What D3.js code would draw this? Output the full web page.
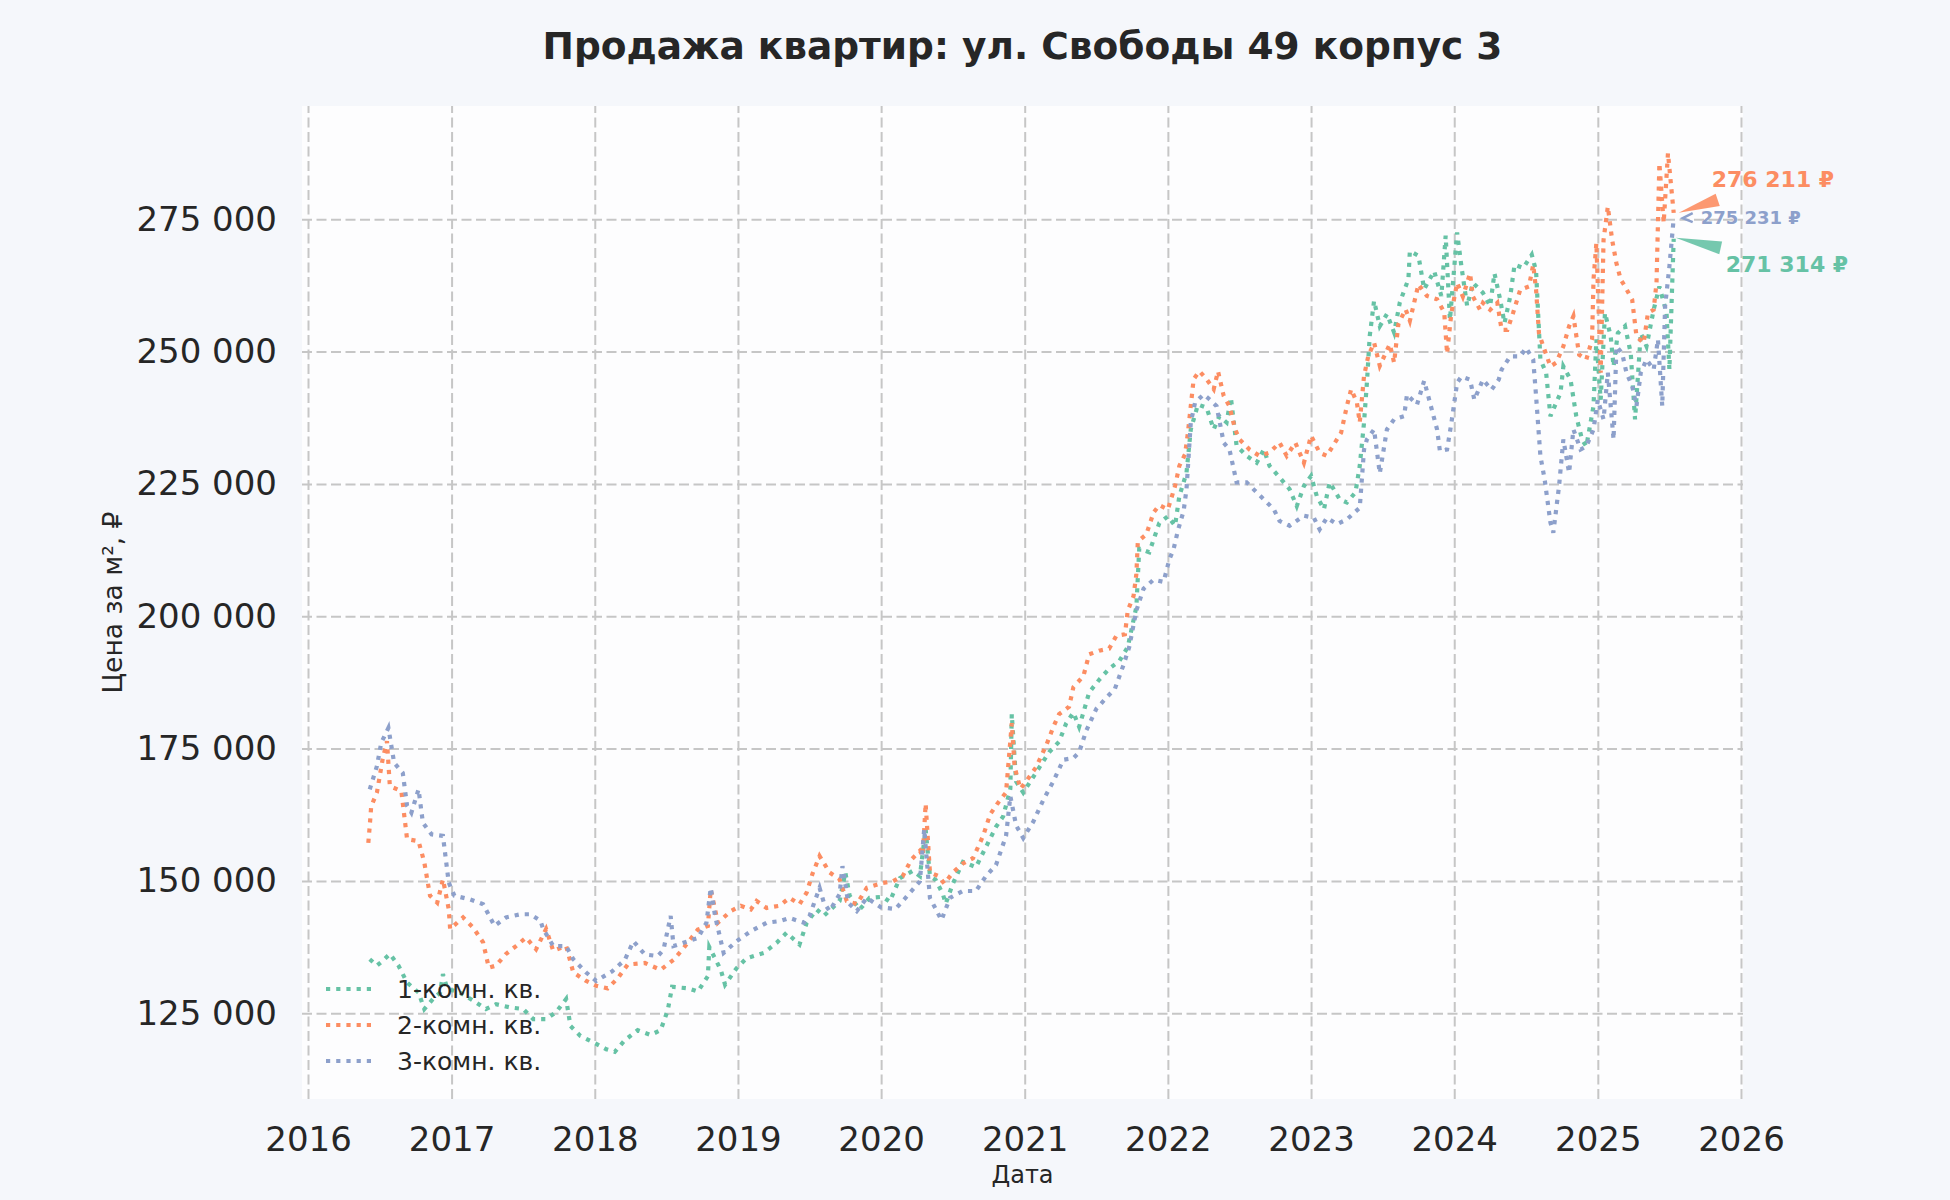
<!DOCTYPE html>
<html>
<head>
<meta charset="utf-8">
<script src="https://cdn.jsdelivr.net/npm/d3@7"></script>
<style>
  body { margin: 0; background: #f5f7fb; }
  svg { display: block; font-family: "DejaVu Sans", sans-serif; }
</style>
</head>
<body>
<svg id="canvas"></svg>
<script>
// [decimal year, price per m²]
const oneRoom = [
  [2016.43,135200],[2016.48,134000],[2016.52,134900],[2016.57,136200],[2016.63,134000],[2016.69,130800],
  [2016.77,128900],[2016.81,125800],[2016.87,127700],[2016.92,128900],[2016.94,132400],[2016.97,129600],
  [2017.06,128900],[2017.15,127400],[2017.24,125800],[2017.31,126700],[2017.41,126100],[2017.50,125800],
  [2017.57,123900],[2017.66,123900],[2017.73,125200],[2017.80,127700],[2017.83,122600],[2017.90,120700],
  [2017.99,119500],[2018.08,118200],[2018.14,117700],[2018.21,119900],[2018.30,121800],[2018.39,120900],
  [2018.46,121800],[2018.51,125600],[2018.54,130000],[2018.65,129700],[2018.72,129100],[2018.79,132000],
  [2018.80,137500],[2018.88,133200],[2018.91,130400],[2018.99,133500],[2019.06,135400],[2019.18,136400],
  [2019.27,138300],[2019.34,140200],[2019.43,138000],[2019.48,142100],[2019.55,144600],[2019.60,143400],
  [2019.71,146200],[2019.75,151600],[2019.78,147200],[2019.85,144600],[2019.92,146800],[2020.01,147000],
  [2020.06,146100],[2020.13,150500],[2020.22,151900],[2020.27,150900],[2020.31,159800],[2020.34,150900],
  [2020.38,150200],[2020.43,147500],[2020.45,145700],[2020.50,149500],[2020.57,153600],[2020.66,152600],
  [2020.73,156400],[2020.80,160200],[2020.85,162200],[2020.90,167400],[2020.91,181500],[2020.94,168800],
  [2020.99,166700],[2021.08,170500],[2021.17,174300],[2021.24,176300],[2021.29,179800],[2021.34,181800],
  [2021.38,179100],[2021.41,181800],[2021.45,185600],[2021.52,188000],[2021.59,190100],[2021.66,191500],
  [2021.72,194200],[2021.78,201800],[2021.80,212800],[2021.87,212100],[2021.94,217600],[2022.00,218900],
  [2022.05,217100],[2022.08,222700],[2022.13,227100],[2022.16,235300],[2022.21,240000],[2022.27,239400],
  [2022.32,235300],[2022.36,237800],[2022.41,236600],[2022.44,241300],[2022.48,232200],[2022.55,230300],
  [2022.62,229000],[2022.67,231500],[2022.71,228400],[2022.81,225300],[2022.85,224000],[2022.90,220800],
  [2022.95,224600],[2023.00,226500],[2023.04,222700],[2023.09,220200],[2023.13,225300],[2023.20,222100],
  [2023.25,221500],[2023.31,223400],[2023.34,228400],[2023.37,236600],[2023.39,244100],[2023.41,253000],
  [2023.44,259600],[2023.48,254800],[2023.53,257100],[2023.58,253600],[2023.62,259300],[2023.68,263700],
  [2023.69,269000],[2023.75,268100],[2023.79,261800],[2023.86,265200],[2023.91,260500],[2023.94,271900],
  [2023.97,256000],[2024.02,272500],[2024.05,266100],[2024.09,258600],[2024.13,263000],[2024.20,261100],
  [2024.25,258600],[2024.28,264800],[2024.32,259800],[2024.35,255400],[2024.39,260400],[2024.42,266400],
  [2024.48,265800],[2024.54,268300],[2024.57,265200],[2024.60,248500],[2024.64,246000],[2024.67,237800],
  [2024.70,239700],[2024.74,242200],[2024.76,247200],[2024.81,244700],[2024.85,237800],[2024.89,233400],
  [2024.92,232100],[2024.97,239700],[2024.99,252300],[2025.02,240900],[2025.05,257300],[2025.09,252900],
  [2025.11,247200],[2025.14,253500],[2025.19,254800],[2025.23,249700],[2025.26,237200],[2025.30,253500],
  [2025.34,251000],[2025.39,257900],[2025.43,262300],[2025.48,257300],[2025.50,246600],[2025.53,271314]
];

const twoRoom = [
  [2016.42,157200],[2016.43,160400],[2016.44,164100],[2016.48,166700],[2016.52,173000],[2016.55,176400],
  [2016.57,167900],[2016.65,167000],[2016.69,157900],[2016.77,157500],[2016.81,153500],[2016.85,147200],
  [2016.90,145900],[2016.94,150300],[2016.98,144700],[2016.99,140900],[2017.08,143100],[2017.15,141200],
  [2017.22,138400],[2017.26,133600],[2017.31,134000],[2017.38,136200],[2017.45,137700],[2017.52,139300],
  [2017.59,137100],[2017.66,140900],[2017.71,136800],[2017.80,137700],[2017.85,132700],[2017.94,131100],
  [2018.01,130200],[2018.09,129700],[2018.16,131600],[2018.23,134200],[2018.35,134500],[2018.46,133200],
  [2018.55,135100],[2018.62,137300],[2018.72,140800],[2018.79,141500],[2018.81,148400],[2018.86,142100],
  [2018.95,144300],[2019.02,145300],[2019.09,144600],[2019.13,146200],[2019.20,144900],[2019.29,145300],
  [2019.36,146800],[2019.43,145600],[2019.48,147800],[2019.52,151300],[2019.57,154700],[2019.64,151600],
  [2019.71,150300],[2019.76,146200],[2019.83,145600],[2019.90,148700],[2020.01,149600],[2020.08,149900],
  [2020.15,150900],[2020.21,154000],[2020.27,155700],[2020.29,154700],[2020.31,164600],[2020.34,151600],
  [2020.40,150900],[2020.44,149500],[2020.50,151600],[2020.57,153300],[2020.64,154300],[2020.71,158500],
  [2020.76,162600],[2020.81,164600],[2020.87,166700],[2020.91,179800],[2020.93,171500],[2020.97,167400],
  [2021.01,168800],[2021.08,171500],[2021.15,175600],[2021.20,179100],[2021.24,181500],[2021.31,182900],
  [2021.34,186600],[2021.41,188700],[2021.45,192800],[2021.52,193500],[2021.59,193900],[2021.64,196300],
  [2021.70,196600],[2021.72,201100],[2021.76,203800],[2021.78,208000],[2021.79,214100],[2021.85,215500],
  [2021.90,219600],[2021.94,221000],[2022.00,220200],[2022.05,224600],[2022.08,228400],[2022.12,230600],
  [2022.14,234700],[2022.18,244800],[2022.22,246300],[2022.27,244800],[2022.32,242900],[2022.35,246300],
  [2022.39,241600],[2022.43,239700],[2022.47,235300],[2022.50,233400],[2022.57,231500],[2022.64,230300],
  [2022.71,230900],[2022.78,232800],[2022.83,230300],[2022.89,232800],[2022.95,229000],[2023.00,234100],
  [2023.06,230900],[2023.11,230300],[2023.16,232500],[2023.21,234700],[2023.25,239700],[2023.28,242900],
  [2023.32,240400],[2023.34,236600],[2023.37,245400],[2023.40,249200],[2023.44,251700],[2023.48,247300],
  [2023.55,251400],[2023.58,247900],[2023.61,255200],[2023.66,258000],[2023.69,255800],[2023.75,262700],
  [2023.81,260500],[2023.88,259900],[2023.93,257400],[2023.95,249600],[2023.98,257300],[2024.02,263000],
  [2024.06,260400],[2024.11,264800],[2024.13,260400],[2024.18,257900],[2024.20,259200],[2024.25,257900],
  [2024.30,259200],[2024.33,254100],[2024.37,254100],[2024.41,257300],[2024.46,261700],[2024.52,262300],
  [2024.55,266400],[2024.57,261700],[2024.59,253500],[2024.62,251000],[2024.67,247200],[2024.71,247900],
  [2024.76,251000],[2024.80,254800],[2024.83,256700],[2024.87,249400],[2024.92,248500],[2024.96,252300],
  [2024.97,263600],[2024.99,270500],[2025.02,246000],[2025.04,271100],[2025.07,277400],[2025.10,271100],
  [2025.13,266700],[2025.16,263600],[2025.19,262300],[2025.24,259800],[2025.27,252900],[2025.32,251600],
  [2025.35,257300],[2025.39,257900],[2025.41,263000],[2025.43,285600],[2025.46,274300],[2025.49,287500],
  [2025.53,276211]
];

const threeRoom = [
  [2016.43,167300],[2016.48,171700],[2016.51,176100],[2016.56,178900],[2016.60,172300],[2016.66,170400],
  [2016.69,164200],[2016.72,162900],[2016.77,167300],[2016.80,161000],[2016.86,158800],[2016.94,158500],
  [2016.96,154100],[2016.98,149700],[2017.02,147200],[2017.13,146500],[2017.22,145600],[2017.30,141500],
  [2017.38,143100],[2017.48,143700],[2017.55,143700],[2017.62,142500],[2017.64,140900],[2017.71,137700],
  [2017.80,137700],[2017.85,135200],[2017.94,132700],[2018.01,131100],[2018.12,132900],[2018.21,135100],
  [2018.27,138600],[2018.35,136100],[2018.44,135800],[2018.48,137000],[2018.53,143400],[2018.55,137700],
  [2018.65,138600],[2018.72,139200],[2018.78,142100],[2018.81,148700],[2018.84,143400],[2018.90,136400],
  [2018.99,138600],[2019.09,140500],[2019.20,142100],[2019.29,142400],[2019.36,143000],[2019.46,142100],
  [2019.50,143400],[2019.57,148700],[2019.60,145900],[2019.64,144300],[2019.71,147500],[2019.73,152800],
  [2019.77,145900],[2019.83,144300],[2019.90,146800],[2020.00,145000],[2020.10,144700],[2020.17,146800],
  [2020.27,149900],[2020.30,159800],[2020.34,146800],[2020.42,142600],[2020.48,146800],[2020.57,148100],
  [2020.66,148100],[2020.73,150900],[2020.80,153000],[2020.87,158500],[2020.90,166000],[2020.94,160500],
  [2020.99,158100],[2021.06,161200],[2021.13,165300],[2021.20,168800],[2021.27,172900],[2021.34,173200],
  [2021.38,174300],[2021.43,178400],[2021.50,182500],[2021.57,184600],[2021.63,186300],[2021.69,190800],
  [2021.73,194200],[2021.78,201100],[2021.83,205200],[2021.90,206900],[2021.97,206500],[2022.01,210700],
  [2022.04,212700],[2022.07,216200],[2022.11,219900],[2022.13,224000],[2022.16,236600],[2022.19,240400],
  [2022.25,241900],[2022.29,241000],[2022.34,239700],[2022.39,232800],[2022.43,231500],[2022.48,225300],
  [2022.55,225300],[2022.62,223400],[2022.67,222100],[2022.74,220200],[2022.78,218000],[2022.85,217100],
  [2022.95,219000],[2023.02,218600],[2023.06,216400],[2023.11,218600],[2023.18,217400],[2023.25,218300],
  [2023.34,220500],[2023.37,231500],[2023.39,233400],[2023.44,235300],[2023.48,227000],[2023.53,235300],
  [2023.58,237200],[2023.65,237800],[2023.67,241900],[2023.74,240000],[2023.79,244500],[2023.83,240400],
  [2023.88,235300],[2023.90,231200],[2023.95,231500],[2023.98,236500],[2024.02,244100],[2024.05,245300],
  [2024.11,244700],[2024.14,240900],[2024.20,244700],[2024.26,242800],[2024.31,244700],[2024.33,246600],
  [2024.39,249100],[2024.46,249100],[2024.50,250700],[2024.55,248500],[2024.57,241600],[2024.60,230300],
  [2024.63,225800],[2024.67,217700],[2024.69,215800],[2024.73,224600],[2024.76,233400],[2024.80,227100],
  [2024.83,235300],[2024.88,231500],[2024.92,232100],[2024.97,235300],[2025.00,240900],[2025.04,237200],
  [2025.07,246000],[2025.11,233400],[2025.13,251000],[2025.17,249700],[2025.20,246000],[2025.24,243500],
  [2025.27,239700],[2025.30,246000],[2025.34,248500],[2025.39,246600],[2025.42,252300],[2025.45,239700],
  [2025.47,258600],[2025.50,266100],[2025.53,275231]
];

const seriesNames = ["1-комн. кв.", "2-комн. кв.", "3-комн. кв."];
const yTickValues = [125000, 150000, 175000, 200000, 225000, 250000, 275000];
const xTickYears = [2016, 2017, 2018, 2019, 2020, 2021, 2022, 2023, 2024, 2025, 2026];

const titleText = "Продажа квартир: ул. Свободы 49 корпус 3";
const xLabelText = "Дата";
const yLabelText = "Цена за м², ₽";

const colors = ["#66c2a5", "#fc8d62", "#8da0cb"];

const width = 1950;
const height = 1200;
const margin = { top: 106, right: 207, bottom: 101, left: 302 };
const chartWidth = width - margin.left - margin.right;
const chartHeight = height - margin.top - margin.bottom;

function toDate(t) {
  const yr = Math.floor(t);
  const start = Date.UTC(yr, 0, 1), end = Date.UTC(yr + 1, 0, 1);
  return new Date(start + (t - yr) * (end - start));
}

const series = [oneRoom, twoRoom, threeRoom].map((rows, i) => ({
  name: seriesNames[i],
  color: colors[i],
  values: rows.map(d => ({ date: toDate(d[0]), price: d[1] }))
}));

const svg = d3.select("#canvas")
  .attr("width", width)
  .attr("height", height);

svg.append("rect")
  .attr("width", width).attr("height", height)
  .attr("fill", "#f5f7fb");

const chartArea = svg.append("g")
  .attr("transform", `translate(${margin.left},${margin.top})`);

chartArea.append("rect")
  .attr("width", chartWidth).attr("height", chartHeight)
  .attr("fill", "#fdfdfe");

const x = d3.scaleUtc()
  .domain([toDate(2015.958), toDate(2026.014)])
  .range([0, chartWidth]);

const y = d3.scaleLinear()
  .domain([108800, 296400])
  .range([chartHeight, 0]);

const spaceFmt = v => d3.format(",")(v).replace(/,/g, " ");

// grid
const xAxis = d3.axisBottom(x)
  .tickValues(xTickYears.map(yr => toDate(yr)))
  .tickFormat(d => d.getUTCFullYear())
  .tickSize(-chartHeight)
  .tickPadding(28);

const yAxis = d3.axisLeft(y)
  .tickValues(yTickValues)
  .tickFormat(spaceFmt)
  .tickSize(-chartWidth)
  .tickPadding(25);

const gx = chartArea.append("g")
  .attr("transform", `translate(0, ${chartHeight})`)
  .call(xAxis);

const gy = chartArea.append("g")
  .call(yAxis);

[gx, gy].forEach(g => {
  g.select(".domain").remove();
  g.selectAll(".tick line")
    .attr("stroke", "#c6c6c6")
    .attr("stroke-width", 2)
    .attr("stroke-dasharray", "10,4.5");
  g.selectAll(".tick text")
    .attr("fill", "#262626")
    .attr("font-size", 34)
    .attr("font-family", "DejaVu Sans");
});
gx.selectAll(".tick text").attr("dy", "0.71em");

// lines
const line = d3.line()
  .x(d => x(d.date))
  .y(d => y(d.price));

series.forEach(s => {
  chartArea.append("path")
    .datum(s.values)
    .attr("fill", "none")
    .attr("stroke", s.color)
    .attr("stroke-width", 4.2)
    .attr("stroke-dasharray", "4.2,6")
    .attr("d", line);
});

// last value annotations
const annot = [
  { text: [52, 33], size: 22, arrow: "wedge", tip: [2, -1], base: [47, 9] },
  { text: [38, -26], size: 22, arrow: "wedge", tip: [5, 0], base: [44, -13] },
  { text: [27, 6], size: 18, arrow: "chevron", tip: [9, 0] }
];

series.forEach((s, i) => {
  const last = s.values[s.values.length - 1];
  const lx = x(last.date), ly = y(last.price);
  const a = annot[i];
  if (a.arrow === "wedge") {
    const tx = lx + a.tip[0], ty = ly + a.tip[1];
    const bx = lx + a.base[0], by = ly + a.base[1];
    const len = Math.hypot(bx - tx, by - ty);
    const nx = -(by - ty) / len * 6.5, ny = (bx - tx) / len * 6.5;
    chartArea.append("path")
      .attr("d", `M${tx},${ty}L${bx + nx},${by + ny}L${bx - nx},${by - ny}Z`)
      .attr("fill", s.color)
      .attr("opacity", 0.9);
  } else {
    const tx = lx + a.tip[0], ty = ly + a.tip[1];
    chartArea.append("path")
      .attr("d", `M${tx + 10},${ty - 5}L${tx},${ty}L${tx + 10},${ty + 4}`)
      .attr("fill", "none")
      .attr("stroke", s.color)
      .attr("stroke-width", 2.5);
  }
  chartArea.append("text")
    .attr("x", lx + a.text[0])
    .attr("y", ly + a.text[1])
    .attr("font-size", a.size)
    .attr("font-weight", "bold")
    .attr("fill", s.color)
    .text(spaceFmt(last.price) + " ₽");
});

// legend
const legend = chartArea.append("g")
  .attr("transform", `translate(24, ${1 - margin.top + 988})`);

series.forEach((s, i) => {
  const row = legend.append("g").attr("transform", `translate(0, ${i * 36})`);
  row.append("line")
    .attr("x1", 0).attr("x2", 49)
    .attr("stroke", s.color)
    .attr("stroke-width", 4.2)
    .attr("stroke-dasharray", "4.2,6");
  row.append("text")
    .attr("x", 71)
    .attr("dy", "0.35em")
    .attr("font-size", 25)
    .attr("fill", "#262626")
    .text(s.name);
});

// title and axis labels
svg.append("text")
  .attr("x", margin.left + chartWidth / 2)
  .attr("y", 59)
  .attr("text-anchor", "middle")
  .attr("font-size", 37.5)
  .attr("font-weight", "bold")
  .attr("fill", "#262626")
  .text(titleText);

svg.append("text")
  .attr("x", margin.left + chartWidth / 2)
  .attr("y", 1183)
  .attr("text-anchor", "middle")
  .attr("font-size", 24)
  .attr("fill", "#262626")
  .text(xLabelText);

svg.append("text")
  .attr("transform", `translate(122, ${margin.top + chartHeight / 2}) rotate(-90)`)
  .attr("text-anchor", "middle")
  .attr("font-size", 26.5)
  .attr("fill", "#262626")
  .text(yLabelText);
</script>
</body>
</html>
